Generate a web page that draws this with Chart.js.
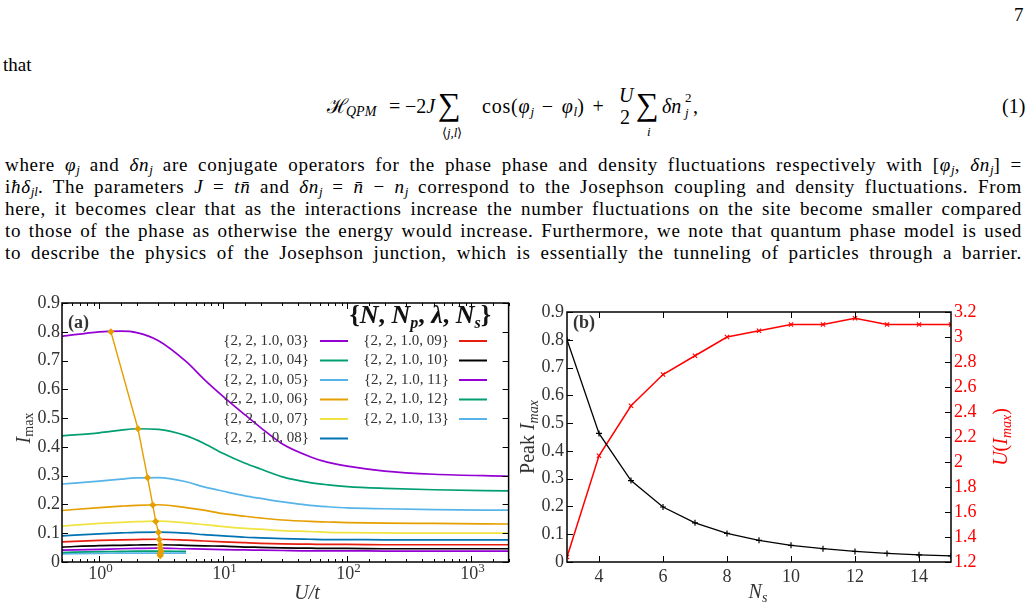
<!DOCTYPE html>
<html>
<head>
<meta charset="utf-8">
<script src="https://cdn.jsdelivr.net/npm/chart.js@4.4.1/dist/chart.umd.min.js"></script>
<style>
body{margin:0;background:#fff;}
#page{position:relative;width:1029px;height:612px;overflow:hidden;font-family:'Liberation Serif',serif;color:#000;}
.t{position:absolute;font-size:19px;line-height:22px;white-space:nowrap;}
.ln{position:absolute;left:5px;width:1017px;font-size:19px;letter-spacing:0.7px;line-height:22px;height:22px;text-align:justify;text-align-last:justify;white-space:nowrap;}
.ln sub,.e sub{font-size:13px;vertical-align:-3px;line-height:0;letter-spacing:0;}
.e{position:absolute;font-size:20px;line-height:1;white-space:nowrap;}
canvas{position:absolute;}
</style>
</head>
<body>
<div id="page">
  <div class="t" style="left:1014px;top:4px">7</div>
  <div class="t" style="left:3px;top:54px">that</div>

  <!-- equation (1) -->
  <span class="e" style="left:327px;top:96px">ℋ<sub style="margin-left:-2px;font-size:14px"><i>QPM</i></sub></span>
  <span class="e" style="left:389px;top:96px">=</span>
  <span class="e" style="left:405px;top:96px">−2<i>J</i></span>
  <span class="e" style="left:438px;top:88px;font-size:32px">∑</span>
  <span class="e" style="left:442px;top:126px;font-size:13px">⟨<i>j,l</i>⟩</span>
  <span class="e" style="left:482px;top:96px;letter-spacing:0.8px;word-spacing:2px">cos(<i>φ<sub>j</sub></i> − <i>φ<sub>l</sub></i>) +</span>
  <span class="e" style="left:619px;top:85px"><i>U</i></span>
  <span class="e" style="left:620px;top:107px">2</span>
  <span class="e" style="left:636px;top:88px;font-size:32px">∑</span>
  <span class="e" style="left:647px;top:125px;font-size:13px"><i>i</i></span>
  <span class="e" style="left:662px;top:96px"><i>δn</i></span>
  <span class="e" style="left:685px;top:91px;font-size:13px">2</span>
  <span class="e" style="left:685px;top:106px;font-size:13px"><i>j</i></span>
  <span class="e" style="left:693px;top:96px">,</span>
  <span class="e" style="left:1002px;top:96px">(1)</span>

  <div class="ln" style="top:154px">where <i>φ<sub>j</sub></i> and <i>δn<sub>j</sub></i> are conjugate operators for the phase phase and density fluctuations respectively with [<i>φ<sub>j</sub></i>, <i>δn<sub>j</sub></i>] =</div>
  <div class="ln" style="top:176px">i<i>ħδ<sub>jl</sub></i>. The parameters <i>J</i> = <i>tn̄</i> and <i>δn<sub>j</sub></i> = <i>n̄</i> − <i>n<sub>j</sub></i> correspond to the Josephson coupling and density fluctuations. From</div>
  <div class="ln" style="top:198px">here, it becomes clear that as the interactions increase the number fluctuations on the site become smaller compared</div>
  <div class="ln" style="top:220px">to those of the phase as otherwise the energy would increase. Furthermore, we note that quantum phase model is used</div>
  <div class="ln" style="top:242px">to describe the physics of the Josephson junction, which is essentially the tunneling of particles through a barrier.</div>

  <canvas id="chartA" width="514" height="322" style="left:0;top:290px"></canvas>
  <canvas id="chartB" width="515" height="322" style="left:514px;top:290px"></canvas>
</div>
<script>
// ---- data (a): I_max vs U/t for each N_s ----
const nsCurves = [3, 4, 5, 6, 7, 8, 9, 10, 11, 12, 13];
const uGrid = [0.5, 1, 1.5, 2, 3, 5, 7, 10, 15, 20, 30, 50, 70, 100, 200, 500, 2000];
const iNs03 = [0.784, 0.800, 0.802, 0.797, 0.769, 0.697, 0.635, 0.575, 0.511, 0.467, 0.410, 0.366, 0.346, 0.333, 0.316, 0.305, 0.298];
const iNs04 = [0.438, 0.449, 0.458, 0.463, 0.461, 0.439, 0.412, 0.377, 0.343, 0.323, 0.296, 0.276, 0.268, 0.262, 0.256, 0.251, 0.247];
const iNs05 = [0.271, 0.281, 0.288, 0.292, 0.293, 0.279, 0.261, 0.246, 0.230, 0.221, 0.209, 0.197, 0.192, 0.188, 0.185, 0.182, 0.180];
const iNs06 = [0.179, 0.189, 0.194, 0.197, 0.199, 0.189, 0.180, 0.168, 0.159, 0.153, 0.146, 0.141, 0.139, 0.137, 0.135, 0.134, 0.132];
const iNs07 = [0.125, 0.134, 0.138, 0.140, 0.142, 0.136, 0.130, 0.123, 0.117, 0.114, 0.109, 0.106, 0.103, 0.102, 0.101, 0.100, 0.100];
const iNs08 = [0.091, 0.098, 0.101, 0.103, 0.104, 0.100, 0.095, 0.091, 0.086, 0.084, 0.081, 0.079, 0.078, 0.078, 0.077, 0.077, 0.077];
const iNs09 = [0.070, 0.075, 0.077, 0.078, 0.079, 0.076, 0.073, 0.070, 0.067, 0.065, 0.063, 0.062, 0.061, 0.061, 0.060, 0.060, 0.060];
const iNs10 = [0.052, 0.057, 0.058, 0.059, 0.060, 0.058, 0.056, 0.055, 0.052, 0.051, 0.049, 0.048, 0.047, 0.047, 0.046, 0.046, 0.046];
const iNs11 = [0.041, 0.044, 0.046, 0.047, 0.048, 0.046, 0.045, 0.043, 0.042, 0.041, 0.040, 0.039, 0.039, 0.039, 0.038, 0.038, 0.038];
const iNs12 = [0.033, 0.036, 0.037, 0.038, 0.038, 0.037];   // only computed up to U/t = 5
const iNs13 = [0.028, 0.030, 0.031, 0.031, 0.031, 0.031];
const curveValues = [iNs03, iNs04, iNs05, iNs06, iNs07, iNs08, iNs09, iNs10, iNs11, iNs12, iNs13];

// ---- data (b): peak of each curve ----
const nsPeak = [3, 4, 5, 6, 7, 8, 9, 10, 11, 12, 13, 14, 15];
const peakI = [0.80, 0.463, 0.293, 0.198, 0.141, 0.103, 0.078, 0.060, 0.048, 0.038, 0.031, 0.026, 0.022];
const peakU = [1.24, 2.05, 2.45, 2.70, 2.85, 3.00, 3.05, 3.10, 3.10, 3.15, 3.10, 3.10, 3.10];

const palette = ['#9400D3', '#009E73', '#56B4E9', '#E69F00', '#F0E442', '#0072B2', '#E51E10', '#000000'];
const serif = "'Liberation Serif', serif";
const grey = '#333';

function line(ctx, x1, y1, x2, y2) {
  ctx.beginPath(); ctx.moveTo(x1, y1); ctx.lineTo(x2, y2); ctx.stroke();
}
// draw text made of pieces [text, font, dy]
function rich(ctx, parts, x, y, align) {
  let w = 0;
  parts.forEach(p => { ctx.font = p[1]; w += ctx.measureText(p[0]).width; });
  let cx = align == 'center' ? x - w / 2 : align == 'right' ? x - w : x;
  ctx.textAlign = 'left';
  parts.forEach(p => { ctx.font = p[1]; ctx.fillText(p[0], cx, y + (p[2] || 0)); cx += ctx.measureText(p[0]).width; });
}
function isPow10(v) {
  const l = Math.log10(v);
  return Math.abs(l - Math.round(l)) < 1e-9;
}

// ---------- chart (a) ----------
const dsA = nsCurves.map((n, i) => ({
  label: '{2, 2, 1.0, ' + String(n).padStart(2, '0') + '}',
  data: curveValues[i].map((v, k) => ({ x: uGrid[k], y: v })),
  borderColor: palette[i % palette.length],
  borderWidth: 1.7,
  pointRadius: 0,
  cubicInterpolationMode: 'monotone',
  order: 1,
  isCurve: true
}));
dsA.push({
  label: 'peak',
  data: peakU.map((u, k) => ({ x: u, y: peakI[k] })),
  borderColor: '#E69F00',
  backgroundColor: '#E69F00',
  borderWidth: 1.4,
  pointStyle: 'rectRot',
  pointRadius: 2.6,
  order: 0
});

const decorA = {
  id: 'decorA',
  afterDatasetsDraw(chart) {
    const { ctx, chartArea: a, scales } = chart;
    ctx.save();
    ctx.strokeStyle = '#000'; ctx.lineWidth = 1;
    ctx.fillStyle = grey; ctx.textBaseline = 'alphabetic';
    scales.x.ticks.forEach(t => {
      const px = Math.round(scales.x.getPixelForValue(t.value)) + 0.5;
      const major = isPow10(t.value);
      const len = major ? 6 : 3;
      line(ctx, px, a.bottom, px, a.bottom - len);
      line(ctx, px, a.top, px, a.top + len);
      if (major) {
        rich(ctx, [['10', '18px ' + serif], [String(Math.round(Math.log10(t.value))), '13px ' + serif, -7]], px + 1, a.bottom + 17, 'center');
      }
    });
    scales.y.ticks.forEach(t => {
      const py = Math.round(scales.y.getPixelForValue(t.value)) + 0.5;
      line(ctx, a.left, py, a.left + 6, py);
      line(ctx, a.right, py, a.right - 6, py);
    });
    ctx.lineWidth = 1.5;
    ctx.strokeRect(a.left, a.top, a.right - a.left, a.bottom - a.top);

    // legend
    ctx.textBaseline = 'middle';
    chart.data.datasets.filter(d => d.isCurve).forEach((d, i) => {
      const col = Math.floor(i / 6), row = i % 6;
      const y = 51 + row * 19.5;
      ctx.fillStyle = grey; ctx.font = '15px ' + serif; ctx.textAlign = 'right';
      ctx.fillText(d.label, col ? 449 : 309, y);
      ctx.strokeStyle = d.borderColor; ctx.lineWidth = 2;
      const x0 = col ? 459 : 320;
      line(ctx, x0, y, x0 + 28, y);
    });

    ctx.textBaseline = 'alphabetic';
    ctx.fillStyle = '#111';
    const bi = 'italic bold 26px ' + serif, b = 'bold 26px ' + serif, bs = 'italic bold 16px ' + serif;
    rich(ctx, [['{', b], ['N', bi], [', ', b], ['N', bi], ['p', bs, 5], [', ', b], ['λ', bi], [', ', b], ['N', bi], ['s', bs, 5], ['}', b]], 491, 33, 'right');
    ctx.fillStyle = grey;
    rich(ctx, [['(a)', 'bold 18px ' + serif]], 68, 38, 'left');
    rich(ctx, [['U/t', 'italic 20px ' + serif]], 307, 309, 'center');
    ctx.translate(30, 138); ctx.rotate(-Math.PI / 2);
    rich(ctx, [['I', 'italic 20px ' + serif], ['max', '14px ' + serif, 3]], 0, 0, 'center');
    ctx.restore();
  }
};

new Chart(document.getElementById('chartA'), {
  type: 'line',
  data: { datasets: dsA },
  options: {
    responsive: false, animation: false,
    layout: { padding: { top: 13, right: 3, left: 0, bottom: 0 } },
    plugins: { legend: { display: false }, tooltip: { enabled: false } },
    scales: {
      x: {
        type: 'logarithmic', min: 0.5, max: 2000,
        grid: { display: false, drawTicks: false }, border: { display: false },
        ticks: { autoSkip: false, maxRotation: 0, callback: () => '' },
        afterFit(s) { s.height = 50; }
      },
      y: {
        min: 0, max: 0.9,
        grid: { display: false, drawTicks: false }, border: { display: false },
        ticks: { stepSize: 0.1, padding: 2, color: grey, font: { family: serif, size: 18 },
          callback: v => String(Number(v.toFixed(2))) },
        afterFit(s) { s.width = 62; }
      }
    }
  },
  plugins: [decorA]
});

// ---------- chart (b) ----------
const decorB = {
  id: 'decorB',
  afterDatasetsDraw(chart) {
    const { ctx, chartArea: a, scales } = chart;
    ctx.save();
    ctx.strokeStyle = '#000'; ctx.lineWidth = 1;
    scales.x.ticks.forEach(t => {
      if (t.value % 2) return;
      const px = Math.round(scales.x.getPixelForValue(t.value)) + 0.5;
      line(ctx, px, a.bottom, px, a.bottom - 6);
      line(ctx, px, a.top, px, a.top + 6);
    });
    scales.y.ticks.forEach(t => {
      const py = Math.round(scales.y.getPixelForValue(t.value)) + 0.5;
      line(ctx, a.left, py, a.left + 6, py);
    });
    scales.y2.ticks.forEach(t => {
      const py = Math.round(scales.y2.getPixelForValue(t.value)) + 0.5;
      line(ctx, a.right, py, a.right - 6, py);
    });
    ctx.lineWidth = 1.5;
    ctx.strokeRect(a.left, a.top, a.right - a.left, a.bottom - a.top);

    ctx.textBaseline = 'alphabetic';
    ctx.fillStyle = grey;
    rich(ctx, [['(b)', 'bold 18px ' + serif]], 59, 38, 'left');
    rich(ctx, [['N', 'italic 20px ' + serif], ['s', 'italic 14px ' + serif, 4]], 244, 308, 'center');
    ctx.save();
    ctx.translate(20, 147); ctx.rotate(-Math.PI / 2);
    rich(ctx, [['Peak ', '20px ' + serif], ['I', 'italic 20px ' + serif], ['max', 'italic 14px ' + serif, 4]], 0, 0, 'center');
    ctx.restore();
    ctx.fillStyle = '#FF0000';
    ctx.translate(493, 147); ctx.rotate(-Math.PI / 2);
    rich(ctx, [['U', 'italic 20px ' + serif], ['(', '20px ' + serif], ['I', 'italic 20px ' + serif],
      ['max', 'italic 14px ' + serif, 4], [')', '20px ' + serif]], 0, 0, 'center');
    ctx.restore();
  }
};

new Chart(document.getElementById('chartB'), {
  type: 'line',
  data: {
    datasets: [
      {
        label: 'Peak Imax',
        data: nsPeak.map((n, k) => ({ x: n, y: peakI[k] })),
        borderColor: '#000', backgroundColor: '#000', borderWidth: 1.3,
        pointStyle: 'cross', pointRadius: 3, pointBorderWidth: 1.2, yAxisID: 'y'
      },
      {
        label: 'U(Imax)',
        data: nsPeak.map((n, k) => ({ x: n, y: peakU[k] })),
        borderColor: '#FF0000', backgroundColor: '#FF0000', borderWidth: 1.5,
        pointStyle: 'crossRot', pointRadius: 3, pointBorderWidth: 1.2, yAxisID: 'y2'
      }
    ]
  },
  options: {
    responsive: false, animation: false,
    layout: { padding: { top: 22, right: 0, left: 0, bottom: 0 } },
    plugins: { legend: { display: false }, tooltip: { enabled: false } },
    scales: {
      x: {
        type: 'linear', min: 3, max: 15,
        grid: { display: false, drawTicks: false }, border: { display: false },
        ticks: { stepSize: 1, autoSkip: false, maxRotation: 0, padding: 4, color: grey,
          font: { family: serif, size: 18 }, callback: v => v % 2 ? '' : String(v) },
        afterFit(s) { s.height = 50; }
      },
      y: {
        position: 'left', min: 0, max: 0.9,
        grid: { display: false, drawTicks: false }, border: { display: false },
        ticks: { stepSize: 0.1, padding: 3, color: grey, font: { family: serif, size: 18 },
          callback: v => String(Number(v.toFixed(2))) },
        afterFit(s) { s.width = 53; }
      },
      y2: {
        position: 'right', min: 1.2, max: 3.2,
        grid: { display: false, drawTicks: false }, border: { display: false },
        ticks: { stepSize: 0.2, padding: 3, color: '#FF0000', font: { family: serif, size: 18 },
          callback: v => String(Number(v.toFixed(1))) },
        afterFit(s) { s.width = 78; }
      }
    }
  },
  plugins: [decorB]
});
</script>
</body>
</html>
